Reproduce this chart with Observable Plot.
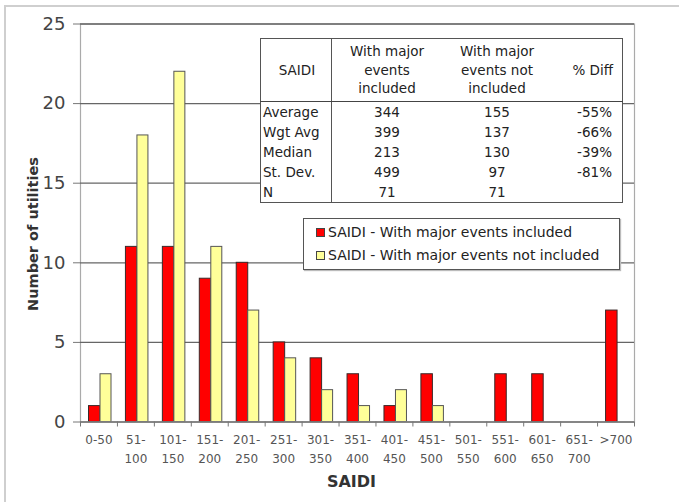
<!DOCTYPE html>
<html><head><meta charset="utf-8">
<script src="https://cdn.jsdelivr.net/npm/d3@7"></script>
<script src="https://cdn.jsdelivr.net/npm/@observablehq/plot@0.6"></script>
<style>
body{margin:0;background:#fff;font-family:"DejaVu Sans","Liberation Sans",Arial,sans-serif;}
#wrap{position:relative;width:679px;height:502px;overflow:hidden;}
#frame{position:absolute;left:4px;top:5px;width:720px;height:560px;border-left:2px solid #cfcfcf;border-top:2px solid #cfcfcf;}
#chart{position:absolute;left:0;top:0;}
#tbl{position:absolute;left:260px;top:38px;width:363px;background:#fff;border:1.5px solid #555;border-collapse:collapse;font-size:13.5px;color:#222;}
#tbl td{padding:0;white-space:nowrap;}
#tbl thead td{height:62px;line-height:18.5px;text-align:center;border-bottom:1.5px solid #444;vertical-align:middle;}
#tbl tbody td{height:20px;line-height:20px;}
#tbl .c1{border-right:1.5px solid #555;text-align:left;padding-left:2px;}
#tbl thead .c1{text-align:center;}
#tbl .c2,#tbl .c3{text-align:center;}
#tbl .c4{text-align:right;padding-right:10px;}
#tbl thead .c4{text-align:right;padding-right:9px;}
#legend{position:absolute;left:303px;top:218px;width:315px;height:50px;background:#fff;border:1.5px solid #555;font-size:14px;color:#222;box-shadow:1px 1px 1px #bbb;}
.li{position:absolute;left:12px;height:20px;line-height:20px;white-space:nowrap;}
.sw{display:inline-block;width:7px;height:7px;border:1px solid #444;margin-right:3px;vertical-align:0px;}
</style>
</head><body>
<div id="wrap"><div id="frame"></div><div id="chart"></div>
<table id="tbl"><thead></thead><tbody></tbody></table>
<div id="legend"></div>
</div>
<script>
const categories = ["0-50","51-100","101-150","151-200","201-250","251-300","301-350","351-400","401-450","451-500","501-550","551-600","601-650","651-700",">700"];
const tickLine1 = ["0-50","51-","101-","151-","201-","251-","301-","351-","401-","451-","501-","551-","601-","651-",">700"];
const tickLine2 = ["","100","150","200","250","300","350","400","450","500","550","600","650","700",""];
const withMajor = [1,11,11,9,10,5,4,3,1,3,0,3,3,0,7];
const withoutMajor = [3,18,22,11,7,4,2,1,2,1,0,0,0,0,0];
const seriesNames = ["SAIDI - With major events included","SAIDI - With major events not included"];
const seriesColors = ["#ff0000","#ffff99"];
const yTicks = [0,5,10,15,20,25];

const tableHeader = ["SAIDI","With major<br>events<br>included","With major<br>events not<br>included","% Diff"];
const tableRows = ["Average","Wgt Avg","Median","St. Dev.","N"];
const colIncluded = ["344","399","213","499","71"];
const colNotIncluded = ["155","137","130","97","71"];
const colDiff = ["-55%","-66%","-39%","-81%",""];

const W = 679, H = 502, mL = 80, mR = 45, mT = 23.5, mB = 80.5;
const step = (W - mL - mR) / categories.length;
const idx = d => categories.indexOf(d);
const FONT = "'DejaVu Sans', 'Liberation Sans', Arial, sans-serif";

const chart = Plot.plot({
  width: W, height: H, marginLeft: mL, marginRight: mR, marginTop: mT, marginBottom: mB,
  style: {fontFamily: FONT, background: "transparent", overflow: "visible"},
  x: {domain: categories, padding: 0, round: false, label: null},
  y: {domain: [0, 25], label: null},
  marks: [
    Plot.frame({stroke: "#aaa", strokeWidth: 1.2}),
    Plot.gridY(yTicks, {stroke: "#666", strokeOpacity: 1, strokeWidth: 1.3}),
    Plot.barY(categories, {filter: (d, i) => withMajor[i] > 0, x: d => d, y: (d) => withMajor[idx(d)], fill: seriesColors[0], stroke: "#3a2a2a", strokeWidth: 1, insetLeft: 8.5, insetRight: step - 20}),
    Plot.barY(categories, {filter: (d, i) => withoutMajor[i] > 0, x: d => d, y: (d) => withoutMajor[idx(d)], fill: seriesColors[1], stroke: "#555", strokeWidth: 1, insetLeft: 20, insetRight: step - 31}),
    Plot.ruleY([0], {stroke: "#888", strokeWidth: 1.5}),
    Plot.axisY({ticks: yTicks, tickSize: 7, tickPadding: 8, fontSize: 18, fill: "#444", stroke: "#777", label: null}),
    Plot.axisX({tickSize: 5, tickFormat: () => "", dx: -step / 2, stroke: "#777"}),
    Plot.axisX([categories[categories.length - 1]], {tickSize: 5, tickFormat: () => "", dx: step / 2, stroke: "#777"}),
    Plot.axisX({tickSize: 0, tickPadding: 13, tickFormat: d => tickLine1[idx(d)], fontSize: 12, fill: "#555", label: null}),
    Plot.axisX({tickSize: 0, tickPadding: 32, tickFormat: d => tickLine2[idx(d)], fontSize: 12, fill: "#555", label: null}),
    Plot.text(["SAIDI"], {frameAnchor: "bottom", dy: 65, dx: -6, fontSize: 16, fontWeight: "bold", fill: "#333"}),
    Plot.text(["Number of utilities"], {frameAnchor: "left", textAnchor: "middle", rotate: -90, dx: -47, dy: 11, fontSize: 14.5, fontWeight: "bold", fill: "#333"})
  ]
});
document.getElementById("chart").appendChild(chart);

const thead = document.querySelector("#tbl thead");
thead.innerHTML = "<tr>" + tableHeader.map((h, i) => `<td class="c${i+1}">${h}</td>`).join("") + "</tr>";
const tbody = document.querySelector("#tbl tbody");
tbody.innerHTML = tableRows.map((r, i) =>
  `<tr><td class="c1" style="width:68px">${r}</td><td class="c2" style="width:110px">${colIncluded[i]}</td><td class="c3" style="width:110px">${colNotIncluded[i]}</td><td class="c4">${colDiff[i]}</td></tr>`).join("");

const legend = document.getElementById("legend");
legend.innerHTML = seriesNames.map((s, i) =>
  `<div class="li" style="top:${3 + i * 23}px"><span class="sw" style="background:${seriesColors[i]}"></span>${s}</div>`).join("");
</script>
</body></html>
